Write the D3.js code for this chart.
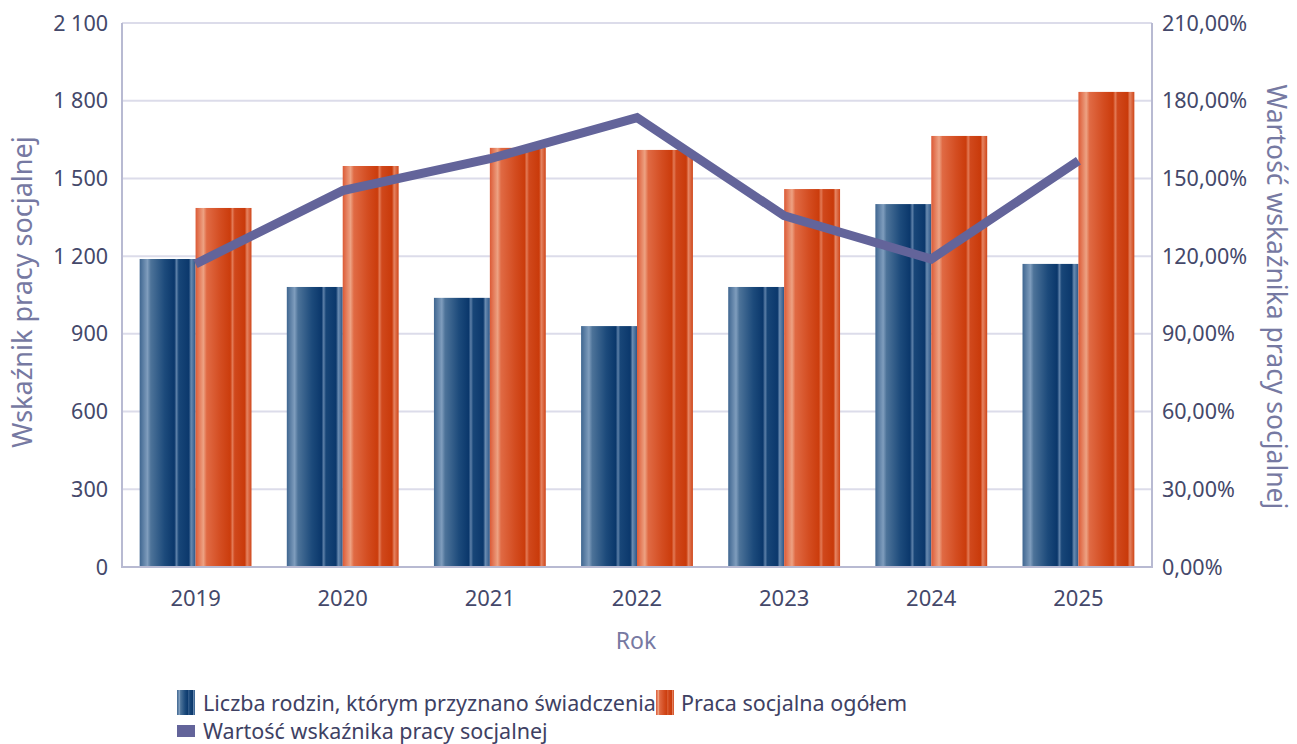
<!DOCTYPE html>
<html lang="pl">
<head>
<meta charset="utf-8">
<script src="https://d3js.org/d3.v7.min.js"></script>
<style>
  body { margin: 0; background: #fff; }
  text { font-family: "Noto Sans", "Open Sans", sans-serif; }
</style>
</head>
<body>
<script type="text/javascript">

// data
var years = ["2019", "2020", "2021", "2022", "2023", "2024", "2025"];
var rodziny = [1189, 1081, 1039, 930, 1081, 1401, 1170];
var praca = [1386, 1548, 1618, 1610, 1459, 1664, 1834];
var wskaznik = [117.0, 145.3, 157.6, 173.5, 135.6, 118.9, 156.8];
var leftTicks = [0, 300, 600, 900, 1200, 1500, 1800, 2100];
var rightTicks = [0, 30, 60, 90, 120, 150, 180, 210];

var w = 1297, h = 744;
var plotL = 122, plotR = 1152, plotT = 23, plotB = 567;

var svg = d3.select("body").append("svg")
    .attr("width", w)
    .attr("height", h);

var defs = svg.append("defs");

function stripes(id, stops) {
    var g = defs.append("linearGradient").attr("id", id)
        .attr("x1", "0%").attr("x2", "100%").attr("y1", "0%").attr("y2", "0%");
    stops.forEach(function(s) {
        g.append("stop").attr("offset", s[0] + "%").attr("stop-color", s[1]);
    });
}
stripes("gBlue", [[0, "#3f6690"], [14, "#7f9dbd"], [20, "#4d7399"], [45, "#1c4a7b"], [62, "#0a376b"], [66, "#5d80a8"], [70, "#184678"], [88, "#0b386c"], [92, "#6a8bb0"], [100, "#2b5688"]]);
stripes("gOrange", [[0, "#dc5a36"], [14, "#eda283"], [20, "#e06a44"], [45, "#d34c20"], [62, "#cb3c0c"], [66, "#e27a56"], [70, "#d0481c"], [88, "#c93a0a"], [92, "#e58462"], [100, "#cf4518"]]);

var x = d3.scaleBand().domain(years).range([plotL, plotR]).paddingInner(0.24).paddingOuter(0.12);
var y = d3.scaleLinear().domain([0, 2100]).range([plotB, plotT]);
var y2 = d3.scaleLinear().domain([0, 210]).range([plotB, plotT]);

// gridlines
svg.append("g")
    .selectAll("line")
    .data(leftTicks.slice(1))
    .enter().append("line")
    .attr("x1", plotL).attr("x2", plotR)
    .attr("y1", function(d) { return y(d); })
    .attr("y2", function(d) { return y(d); })
    .style("stroke", "#dcdcea")
    .style("stroke-width", 2);

// bars
var bw = x.bandwidth() / 2;
svg.append("g").selectAll("rect")
    .data(rodziny)
    .enter().append("rect")
    .attr("x", function(d, i) { return x(years[i]); })
    .attr("y", function(d) { return y(d); })
    .attr("width", bw)
    .attr("height", function(d) { return plotB - y(d); })
    .style("fill", "url(#gBlue)");

svg.append("g").selectAll("rect")
    .data(praca)
    .enter().append("rect")
    .attr("x", function(d, i) { return x(years[i]) + bw; })
    .attr("y", function(d) { return y(d); })
    .attr("width", bw)
    .attr("height", function(d) { return plotB - y(d); })
    .style("fill", "url(#gOrange)");

// axis lines
svg.append("path")
    .attr("d", "M" + plotL + "," + plotT + "V" + plotB + "H" + plotR + "V" + plotT)
    .style("fill", "none")
    .style("stroke", "#b8bad2")
    .style("stroke-width", 2);

// line
var line = d3.line()
    .x(function(d, i) { return x(years[i]) + x.bandwidth() / 2; })
    .y(function(d) { return y2(d); });

svg.append("path")
    .datum(wskaznik)
    .attr("d", line)
    .style("fill", "none")
    .style("stroke", "#63649a")
    .style("stroke-width", 9);

// tick labels
var fmt = function(d) { return d3.format(",")(d).replace(/,/g, " "); };
svg.append("g").selectAll("text")
    .data(leftTicks)
    .enter().append("text")
    .attr("x", 108)
    .attr("y", function(d) { return y(d); })
    .attr("dy", "0.35em")
    .attr("text-anchor", "end")
    .style("font-size", "21.5px")
    .style("fill", "#44486a")
    .text(fmt);

svg.append("g").selectAll("text")
    .data(rightTicks)
    .enter().append("text")
    .attr("x", 1162)
    .attr("y", function(d) { return y2(d); })
    .attr("dy", "0.35em")
    .style("font-size", "21.5px")
    .style("fill", "#44486a")
    .text(function(d) { return d.toFixed(2).replace(".", ",") + "%"; });

svg.append("g").selectAll("text")
    .data(years)
    .enter().append("text")
    .attr("x", function(d) { return x(d) + x.bandwidth() / 2; })
    .attr("y", 598)
    .attr("dy", "0.35em")
    .attr("text-anchor", "middle")
    .style("font-size", "22px")
    .style("fill", "#44486a")
    .text(function(d) { return d; });

// axis titles
svg.append("text")
    .attr("x", 636).attr("y", 641).attr("dy", "0.35em")
    .attr("text-anchor", "middle")
    .style("font-size", "23px")
    .style("fill", "#7679a2")
    .text("Rok");

svg.append("text")
    .attr("transform", "translate(23,292) rotate(-90)")
    .attr("dy", "0.35em")
    .attr("text-anchor", "middle")
    .style("font-size", "27px")
    .style("fill", "#7679a2")
    .text("Wskaźnik pracy socjalnej");

svg.append("text")
    .attr("transform", "translate(1276,297) rotate(90)")
    .attr("dy", "0.35em")
    .attr("text-anchor", "middle")
    .style("font-size", "26.5px")
    .style("fill", "#7679a2")
    .text("Wartość wskaźnika pracy socjalnej");

// legend
var legend = svg.append("g");
legend.append("rect").attr("x", 177).attr("y", 690).attr("width", 18).attr("height", 25).style("fill", "url(#gBlue)");
legend.append("text").attr("x", 203).attr("y", 703).attr("dy", "0.35em")
    .style("font-size", "21.5px").style("fill", "#3e4163")
    .text("Liczba rodzin, którym przyznano świadczenia");
legend.append("rect").attr("x", 656).attr("y", 690).attr("width", 18).attr("height", 25).style("fill", "url(#gOrange)");
legend.append("text").attr("x", 681).attr("y", 703).attr("dy", "0.35em")
    .style("font-size", "21.5px").style("fill", "#3e4163")
    .text("Praca socjalna ogółem");
legend.append("rect").attr("x", 177).attr("y", 725).attr("width", 18).attr("height", 12).style("fill", "#63649a");
legend.append("text").attr("x", 203).attr("y", 731).attr("dy", "0.35em")
    .style("font-size", "21.5px").style("fill", "#3e4163")
    .text("Wartość wskaźnika pracy socjalnej");

</script>
</body>
</html>
